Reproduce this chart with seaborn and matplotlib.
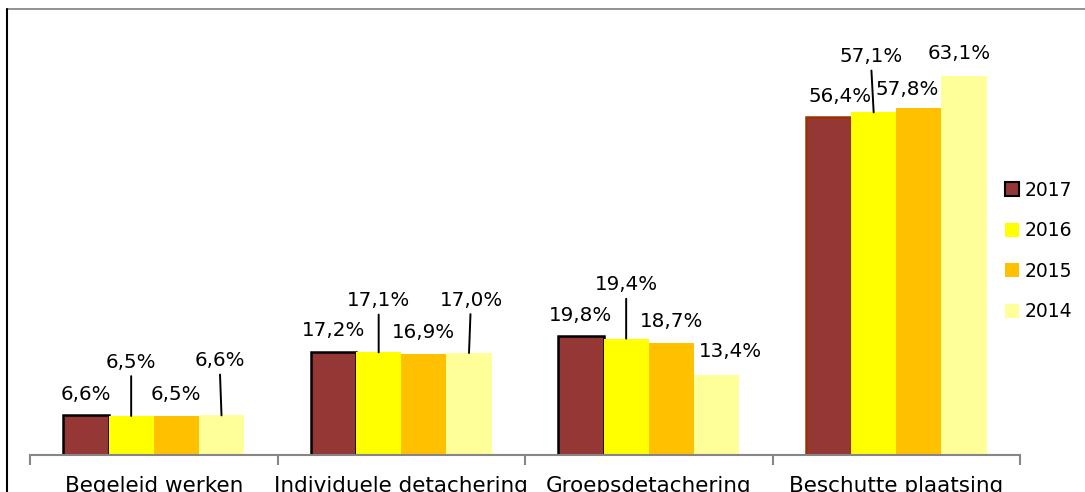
import pandas as pd
import matplotlib.pyplot as plt
from matplotlib.lines import Line2D
from matplotlib.patches import Patch
import seaborn as sns

categories = ["Begeleid werken", "Individuele detachering", "Groepsdetachering", "Beschutte plaatsing"]
years = ["2017", "2016", "2015", "2014"]
v2017 = [6.6, 17.2, 19.8, 56.4]
v2016 = [6.5, 17.1, 19.4, 57.1]
v2015 = [6.5, 16.9, 18.7, 57.8]
v2014 = [6.6, 17.0, 13.4, 63.1]

colors = {"2017": "#953735", "2016": "#FFFF00", "2015": "#FFC000", "2014": "#FFFF99"}

# label offsets (pixels) and whether a leader line is drawn, per (year, category index)
label_style = {
    ("2016", 0): (0, 54, True), ("2014", 0): (-2, 55, True),
    ("2016", 1): (0, 52, True), ("2014", 1): (2, 53, True),
    ("2016", 2): (0, 54, True), ("2014", 2): (14, 23, False),
    ("2016", 3): (-3, 56, True), ("2017", 3): (12, 20, False),
    ("2015", 3): (-12, 19, False), ("2014", 3): (-5, 23, False),
}

df = pd.DataFrame({
    "categorie": categories * 4,
    "jaar": [y for y in years for _ in categories],
    "waarde": v2017 + v2016 + v2015 + v2014,
})

sns.set_style("white")
plt.rcParams["font.family"] = ["DejaVu Sans"]
plt.rcParams["text.color"] = "black"

fig = plt.figure(figsize=(10.85, 4.92), dpi=100)
ax = fig.add_axes([30 / 1085, 37 / 492, 990 / 1085, 420 / 492])

sns.barplot(data=df, x="categorie", y="waarde", hue="jaar", hue_order=years,
            order=categories, palette=colors, width=0.73, gap=0,
            saturation=1, errorbar=None, ax=ax, legend=False)

for year, cont in zip(years, ax.containers):
    for i, bar in enumerate(cont):
        bar.set_linewidth(0)
        if year == "2017":
            bar.set_edgecolor("black" if i < 3 else "#993300")
            bar.set_linewidth(1.8)
        val = bar.get_height()
        dx, dy, lead = label_style.get((year, i), (0, 21, False))
        xy = (bar.get_x() + bar.get_width() / 2, val)
        ax.annotate(f"{val:.1f}%".replace(".", ","), xy=xy, xytext=(dx, dy),
                    textcoords="offset pixels", ha="center", va="center",
                    fontsize=14.3, color="black",
                    arrowprops=dict(arrowstyle="-", color="black", lw=1.4,
                                    shrinkA=1, shrinkB=0) if lead else None)

ax.set_ylim(0, 70)
ax.set_xlim(-0.5, 3.5)
ax.set_xlabel("")
ax.set_ylabel("")
ax.set_yticks([])
for s in ["top", "right", "left"]:
    ax.spines[s].set_visible(False)
ax.spines["bottom"].set_color("#868686")
ax.spines["bottom"].set_linewidth(1.5)
ax.set_xticks(range(4))
ax.set_xticklabels(categories, fontsize=15.5, color="black")
ax.set_xticks([-0.5, 0.5, 1.5, 2.5, 3.5], minor=True)
ax.tick_params(axis="x", which="major", length=0, pad=15)
ax.tick_params(axis="x", which="minor", bottom=True, length=7, width=1.5,
               color="#868686", direction="out")

handles = [Patch(facecolor=colors[y], edgecolor="black" if y == "2017" else colors[y],
                 linewidth=1.5 if y == "2017" else 0) for y in years]
fig.legend(handles, years, loc="center left", bbox_to_anchor=(988 / 1085, 1 - 251 / 492),
           frameon=False, fontsize=13.5, handlelength=0.75, handleheight=0.75,
           handletextpad=0.3, labelspacing=1.15, labelcolor="black")

# outer chart frame (top and left edges visible)
fig.add_artist(Line2D([7 / 1085, 1], [1 - 9 / 492, 1 - 9 / 492], color="#7f7f7f", lw=1.2))
fig.add_artist(Line2D([7 / 1085, 7 / 1085], [0, 1 - 9 / 492], color="black", lw=1.5))

fig.savefig("out.png", dpi=100)
